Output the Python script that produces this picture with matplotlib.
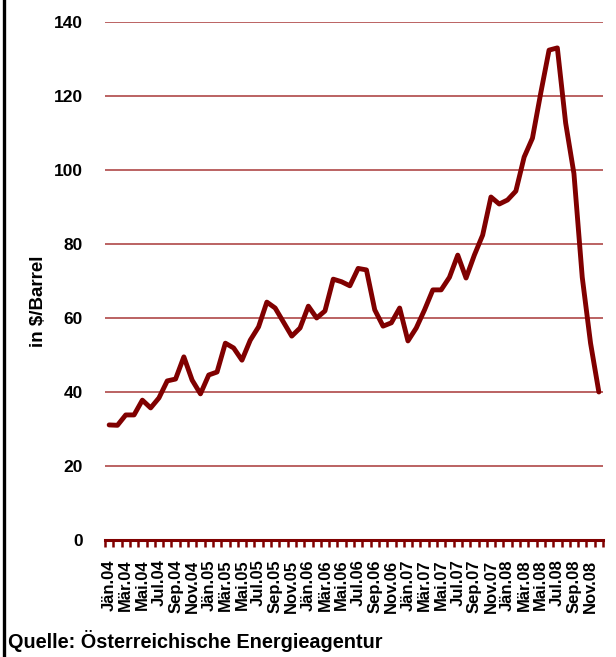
import matplotlib
matplotlib.use("Agg")
import matplotlib.pyplot as plt
from matplotlib.lines import Line2D

plt.rcParams['font.family'] = ['Liberation Sans', 'DejaVu Sans']

# Monthly oil price, Jan 2004 .. Dec 2008 (in $/Barrel)
months = ["Jän", "Feb", "Mär", "Apr", "Mai", "Jun",
          "Jul", "Aug", "Sep", "Okt", "Nov", "Dez"]
years = ["04", "05", "06", "07", "08"]
categories = [f"{m}.{y}" for y in years for m in months]

prices = [
    31.1, 31.0, 33.8, 33.8, 37.8, 35.7, 38.4, 43.0, 43.5, 49.5, 43.2, 39.5,   # 2004
    44.6, 45.4, 53.2, 51.9, 48.6, 54.0, 57.6, 64.3, 62.7, 58.9, 55.1, 57.3,   # 2005
    63.2, 60.0, 61.9, 70.5, 69.8, 68.7, 73.4, 73.0, 62.2, 57.8, 58.7, 62.7,   # 2006
    53.8, 57.3, 62.2, 67.6, 67.6, 71.0, 77.0, 70.8, 77.0, 82.4, 92.7, 90.8,   # 2007
    91.9, 94.3, 103.5, 108.6, 120.8, 132.4, 133.0, 112.7, 99.0, 71.0, 53.2, 40.0,  # 2008
]

yticks = [0, 20, 40, 60, 80, 100, 120, 140]
ylabel = "in $/Barrel"
source = "Quelle: Österreichische Energieagentur"

W, H = 616, 657
fig = plt.figure(figsize=(W / 100, H / 100), dpi=100)
ax = fig.add_axes([105 / W, 1 - 540 / H, (603 - 105) / W, (540 - 22) / H])

x = list(range(len(prices)))
ax.set_xlim(-0.5, len(prices) - 0.5)
ax.set_ylim(0, 140)

for v in yticks[1:]:
    ax.axhline(v, color='#a83838', lw=1.1, zorder=1)

ax.plot(x, prices, color='#800000', lw=3.5, solid_joinstyle='round',
        solid_capstyle='round', zorder=3, clip_on=False)

for s in ['top', 'right', 'left']:
    ax.spines[s].set_visible(False)
ax.spines['bottom'].set_color('#800000')
ax.spines['bottom'].set_linewidth(2.2)
ax.spines['bottom'].set_zorder(4)

ax.set_yticks(yticks)
ax.set_yticklabels([str(v) for v in yticks], fontsize=12.5, fontweight='bold')
ax.tick_params(axis='y', length=0, pad=16)

ax.set_xticks(x[::2])
ax.set_xticklabels(categories[::2], rotation=90, fontsize=12,
                   fontweight='bold', va='top', ha='center')
ax.set_xticks([i - 0.5 for i in range(len(prices) + 1)], minor=True)
ax.tick_params(axis='x', which='major', length=0, pad=14)
ax.tick_params(axis='x', which='minor', length=5, width=1.8,
               color='#800000', direction='out')

fig.text(39 / W, 1 - 301 / H, ylabel, rotation=90, ha='center', va='center',
         fontsize=13.5, fontweight='bold')
fig.text(8 / W, 1 - 641 / H, source, ha='left', va='center',
         fontsize=14.3, fontweight='bold')

fig.add_artist(Line2D([4 / W, 4 / W], [0, 1], transform=fig.transFigure,
                      color='black', lw=2.4))

fig.savefig("out.png", dpi=100)
